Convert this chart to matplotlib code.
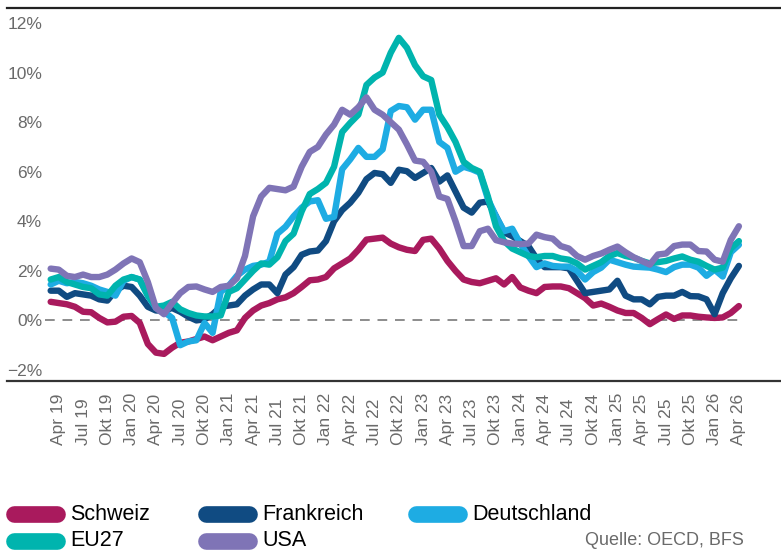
import numpy as np
import matplotlib
matplotlib.use("Agg")
import matplotlib.pyplot as plt
from matplotlib.lines import Line2D

plt.rcParams['font.family'] = ['Liberation Sans', 'DejaVu Sans']

# Monatswerte Mär 2019 .. Apr 2026, Teuerung in %
schweiz = [0.75, 0.7, 0.65, 0.55, 0.35, 0.33, 0.1, -0.08, -0.05, 0.15,
           0.18, -0.1, -0.95, -1.3, -1.35, -1.1, -0.9, -0.85, -0.75, -0.65,
           -0.8, -0.65, -0.5, -0.4, 0.1, 0.4, 0.6, 0.7, 0.85, 0.93,
           1.1, 1.35, 1.62, 1.65, 1.75, 2.1, 2.3, 2.5, 2.85, 3.26,
           3.3, 3.34, 3.1, 2.95, 2.85, 2.8, 3.25, 3.3, 2.9, 2.4,
           2.0, 1.65, 1.55, 1.5, 1.6, 1.7, 1.45, 1.75, 1.33, 1.2,
           1.1, 1.35, 1.37, 1.37, 1.3, 1.1, 0.9, 0.6, 0.68, 0.55,
           0.4, 0.3, 0.3, 0.1, -0.15, 0.05, 0.24, 0.06, 0.2, 0.2,
           0.15, 0.12, 0.1, 0.12, 0.3, 0.58]
frankreich = [1.2, 1.2, 0.95, 1.1, 1.05, 1.0, 0.85, 0.8, 1.2, 1.4,
              1.35, 1.0, 0.55, 0.4, 0.4, 0.5, 0.35, 0.15, 0.0, 0.05,
              0.25, 0.55, 0.6, 0.65, 1.0, 1.25, 1.45, 1.45, 1.1, 1.85,
              2.15, 2.65, 2.78, 2.82, 3.2, 4.0, 4.45, 4.75, 5.15, 5.7,
              5.95, 5.9, 5.55, 6.08, 6.02, 5.75, 5.95, 6.15, 5.6, 5.85,
              5.2, 4.55, 4.35, 4.75, 4.8, 4.2, 3.55, 3.4, 3.2, 3.0,
              2.5, 2.15, 2.15, 2.15, 2.1, 1.6, 1.1, 1.15, 1.2, 1.25,
              1.6, 1.0, 0.85, 0.85, 0.65, 0.95, 1.0, 1.0, 1.15, 0.98,
              0.97, 0.85, 0.25, 1.1, 1.7, 2.2]
deutschland = [1.45, 1.6, 1.5, 1.55, 1.5, 1.4, 1.25, 1.15, 1.0, 1.6,
               1.75, 1.65, 1.0, 0.5, 0.35, 0.1, -1.0, -0.85, -0.8, -0.1,
               -0.5, 1.15, 1.4, 1.8, 2.05, 2.2, 2.25, 2.37, 3.5, 3.78,
               4.2, 4.55, 4.8, 4.85, 4.1, 4.18, 6.1, 6.5, 6.96, 6.6,
               6.6, 6.9, 8.45, 8.65, 8.6, 8.1, 8.5, 8.5, 7.2, 6.96,
               6.0, 6.2, 6.1, 5.96, 4.9, 4.2, 3.6, 3.7, 3.1, 2.6,
               2.15, 2.3, 2.2, 2.17, 2.17, 2.0, 1.65, 1.95, 2.13, 2.45,
               2.35, 2.25, 2.17, 2.15, 2.13, 2.05, 1.95, 2.15, 2.25, 2.25,
               2.13, 1.8, 2.05, 1.77, 2.75, 3.05]
eu27 = [1.65, 1.75, 1.55, 1.45, 1.35, 1.3, 1.05, 1.0, 1.4, 1.65,
        1.75, 1.65, 1.0, 0.55, 0.6, 0.75, 0.45, 0.3, 0.2, 0.16,
        0.16, 0.2, 1.15, 1.3, 1.65, 2.0, 2.3, 2.25, 2.55, 3.2,
        3.5, 4.4, 5.1, 5.3, 5.55, 6.2, 7.6, 7.97, 8.3, 9.5,
        9.8, 10.0, 10.8, 11.4, 11.0, 10.3, 9.85, 9.7, 8.3, 7.8,
        7.2, 6.4, 6.15, 6.0, 5.0, 3.8, 3.2, 2.9, 2.75, 2.6,
        2.55, 2.6, 2.6, 2.5, 2.45, 2.3, 2.05, 2.2, 2.35, 2.6,
        2.72, 2.6, 2.53, 2.4, 2.3, 2.35, 2.4, 2.5, 2.58, 2.45,
        2.37, 2.2, 2.05, 2.13, 2.9, 3.2]
usa = [2.09, 2.05, 1.8, 1.75, 1.85, 1.75, 1.75, 1.85, 2.05, 2.3,
       2.5, 2.35, 1.55, 0.5, 0.25, 0.7, 1.1, 1.35, 1.37, 1.25,
       1.15, 1.35, 1.4, 1.7, 2.6, 4.2, 5.0, 5.35, 5.3, 5.25,
       5.4, 6.2, 6.8, 7.0, 7.5, 7.9, 8.5, 8.3, 8.6, 9.0,
       8.5, 8.3, 8.0, 7.7, 7.1, 6.45, 6.4, 6.0, 5.0, 4.9,
       4.0, 3.0, 3.0, 3.6, 3.7, 3.24, 3.15, 3.1, 3.08, 3.1,
       3.46, 3.36, 3.3, 3.0, 2.9, 2.6, 2.45, 2.6, 2.7, 2.85,
       2.98, 2.75, 2.55, 2.4, 2.25, 2.66, 2.7, 3.0, 3.06, 3.06,
       2.8, 2.78, 2.45, 2.37, 3.25, 3.8]

namen = ["Schweiz", "Frankreich", "Deutschland", "EU27", "USA"]
farben = ["#a91a5d", "#104b82", "#1eace3", "#00b4ae", "#7f74b6"]
reihen = [schweiz, frankreich, deutschland, eu27, usa]

monate = ["Jan", "Feb", "Mär", "Apr", "Mai", "Jun",
          "Jul", "Aug", "Sep", "Okt", "Nov", "Dez"]
n = len(schweiz)
x = np.arange(n)
# Start: März 2019
labels = []
for i in range(n):
    m = (2 + i) % 12
    j = 19 + (2 + i) // 12
    labels.append(f"{monate[m]} {j}")
tick_idx = list(range(1, n, 3))

fig = plt.figure(figsize=(7.81, 5.5), dpi=100)
W, H = 781, 550
ax = fig.add_axes([45 / W, 1 - 381 / H, 1 - 45 / W, (381 - 8) / H])

for name, col, y in zip(namen, farben, reihen):
    ax.plot(x, y, color=col, lw=4.6, solid_capstyle='round',
            solid_joinstyle='round', label=name)

# Null-Linie
x0, x1 = -0.7, 90.2
ax.set_xlim(x0, x1)
ax.set_ylim(-2.444, 12.605)
ax.axhline(0, xmin=0, xmax=(n - 0.4 - x0) / (x1 - x0), color='#8c8c8c',
           lw=1.4, dashes=(5, 4), zorder=0)

for s in ax.spines.values():
    s.set_visible(False)

ax.set_yticks(range(-2, 13, 2))
ax.set_yticklabels([f"{v}%".replace("-", "\u2212") for v in range(-2, 13, 2)])
ax.tick_params(axis='y', length=0, pad=2, labelsize=12.5, labelcolor='#6a6a6a')

ax.set_xticks(tick_idx)
ax.set_xticklabels([labels[i] for i in tick_idx])
ax.tick_params(axis='x', length=0, pad=46, labelsize=12.5, labelcolor='#6a6a6a')
for t in ax.get_xticklabels():
    t.set_rotation(90)
    t.set_rotation_mode('anchor')
    t.set_ha('left')
    t.set_va('center')

# obere und untere Linie
fig.add_artist(Line2D([7 / W, 1], [1 - 8 / H, 1 - 8 / H], color='#222222', lw=1.6))
fig.add_artist(Line2D([7 / W, 1], [1 - 381 / H, 1 - 381 / H], color='#333333', lw=1.6))

# Legende
leg_pos = {"Schweiz": (8, 514), "EU27": (8, 541), "Frankreich": (200, 514),
           "USA": (200, 541), "Deutschland": (410, 514)}
for name, col in zip(namen, farben):
    px, py = leg_pos[name]
    fig.add_artist(Line2D([(px + 6) / W, (px + 49) / W], [1 - py / H, 1 - py / H],
                          color=col, lw=12, solid_capstyle='round'))
    fig.text((px + 62) / W, 1 - py / H, name, fontsize=15.5, color='black',
             va='center', ha='left')

fig.text(585 / W, 1 - 532 / H, "Quelle: OECD, BFS", fontsize=13,
         color='#6a6a6a', va='top', ha='left')

fig.savefig("out.png", dpi=100)
